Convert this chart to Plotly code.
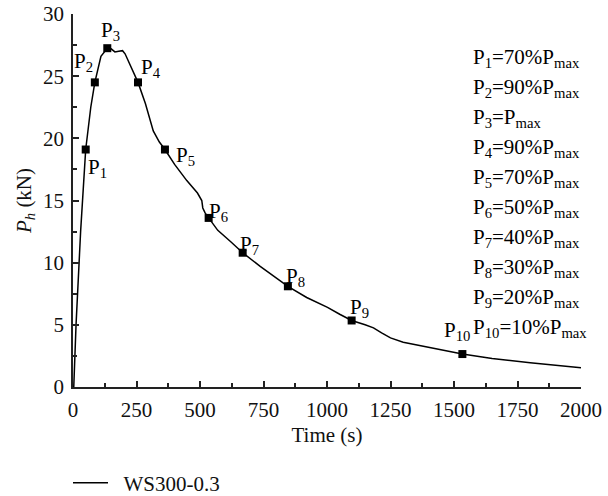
import plotly.graph_objects as go

# Curve (time in s, horizontal load in kN)
time_s = [3, 12, 30, 50, 70, 86, 110, 135, 150, 165, 180, 195, 205, 225, 256, 285, 316, 340,
          362, 400, 448, 490, 507, 511, 520, 534, 570, 620, 668, 737, 800, 846, 920, 1002,
          1050, 1097, 1150, 1183, 1215, 1250, 1300, 1400, 1533, 1650, 1800, 2000]
force_kn = [0, 5, 12.5, 19.1, 22.5, 24.5, 26.6, 27.25, 27.2, 26.95, 27.0, 27.05, 26.8, 25.9,
            24.5, 22.8, 20.6, 19.7, 19.1, 17.9, 16.6, 15.6, 15.0, 14.4, 14.0, 13.6, 12.6, 11.7,
            10.8, 9.7, 8.8, 8.1, 7.2, 6.4, 5.85, 5.35, 5.0, 4.76, 4.35, 3.95, 3.6, 3.2, 2.65,
            2.3, 1.95, 1.55]

# Characteristic points P1..P10
p_names = ["P<sub>1</sub>", "P<sub>2</sub>", "P<sub>3</sub>", "P<sub>4</sub>", "P<sub>5</sub>",
           "P<sub>6</sub>", "P<sub>7</sub>", "P<sub>8</sub>", "P<sub>9</sub>", "P<sub>10</sub>"]
p_time = [50, 86, 135, 256, 362, 534, 668, 846, 1097, 1533]
p_force = [19.1, 24.5, 27.25, 24.5, 19.1, 13.6, 10.8, 8.1, 5.35, 2.65]
p_percent = ["70%", "90%", "", "90%", "70%", "50%", "40%", "30%", "20%", "10%"]

series_name = "WS300-0.3"
x_ticks = [0, 250, 500, 750, 1000, 1250, 1500, 1750, 2000]
y_ticks = [0, 5, 10, 15, 20, 25, 30]

FONT = "Liberation Serif"
FS = 21

fig = go.Figure()
fig.add_trace(go.Scatter(x=time_s, y=force_kn, mode="lines", name="\u00a0\u00a0" + series_name,
                         line=dict(color="black", width=1.5)))
fig.add_trace(go.Scatter(x=p_time, y=p_force, mode="markers", showlegend=False,
                         marker=dict(symbol="square", size=8, color="black")))

# label offsets (pixels, x right / y up) relative to each marker
offsets = [(12, -18), (-11, 20), (3, 17), (13, 14), (21, -6), (10, 6), (7, 8), (8, 9), (8, 12), (-5, 23)]
for name, tx, fy, (dx, dy) in zip(p_names, p_time, p_force, offsets):
    fig.add_annotation(x=tx, y=fy, xref="x", yref="y", text=name, showarrow=False,
                       xshift=dx, yshift=dy, font=dict(family=FONT, size=FS, color="black"))

# Right-hand list
for i, (name, pct) in enumerate(zip(p_names, p_percent)):
    txt = f"{name}={pct}P<sub>max</sub>"
    yc = 55 + 30 * i + 3
    fig.add_annotation(x=(471 - 73) / 508, y=(387 - yc) / 373, xref="paper", yref="paper",
                       text=txt, showarrow=False, xanchor="left", yanchor="middle",
                       font=dict(family=FONT, size=FS, color="black"))

axis_common = dict(showline=True, linecolor="#222", linewidth=1.5, ticks="inside",
                   tickcolor="#222", tickwidth=1.5, ticklen=6, showgrid=False, zeroline=False,
                   mirror=False, tickfont=dict(family=FONT, size=FS, color="#111"))

fig.update_xaxes(range=[0, 2000], tickvals=x_ticks, ticktext=[str(v) for v in x_ticks],
                 minor=dict(dtick=125, tick0=0, ticks="inside", ticklen=4, tickcolor="#222",
                            tickwidth=1.5, showgrid=False),
                 title=dict(text="Time (s)", font=dict(family=FONT, size=FS, color="#111"),
                            standoff=6),
                 ticklabelstandoff=3, **axis_common)
fig.update_yaxes(range=[0, 30], tickvals=y_ticks, ticktext=[str(v) for v in y_ticks],
                 minor=dict(dtick=2.5, tick0=0, ticks="inside", ticklen=4, tickcolor="#222",
                            tickwidth=1.5, showgrid=False),
                 title=dict(text="<i>P<sub>h</sub></i> (kN)",
                            font=dict(family=FONT, size=FS, color="#111"), standoff=6),
                 ticklabelstandoff=3, **axis_common)

fig.update_layout(
    width=608, height=496,
    margin=dict(l=73, r=27, t=14, b=109, autoexpand=False),
    plot_bgcolor="white", paper_bgcolor="white",
    font=dict(family=FONT, size=FS, color="#111"),
    showlegend=True,
    legend=dict(x=68 / 608, y=(496 - 483) / 496, xref="container", yref="container",
                xanchor="left", yanchor="middle", orientation="h",
                itemwidth=35, font=dict(family=FONT, size=FS, color="#111"),
                bgcolor="rgba(0,0,0,0)", borderwidth=0),
)

fig.write_html("out.html")
